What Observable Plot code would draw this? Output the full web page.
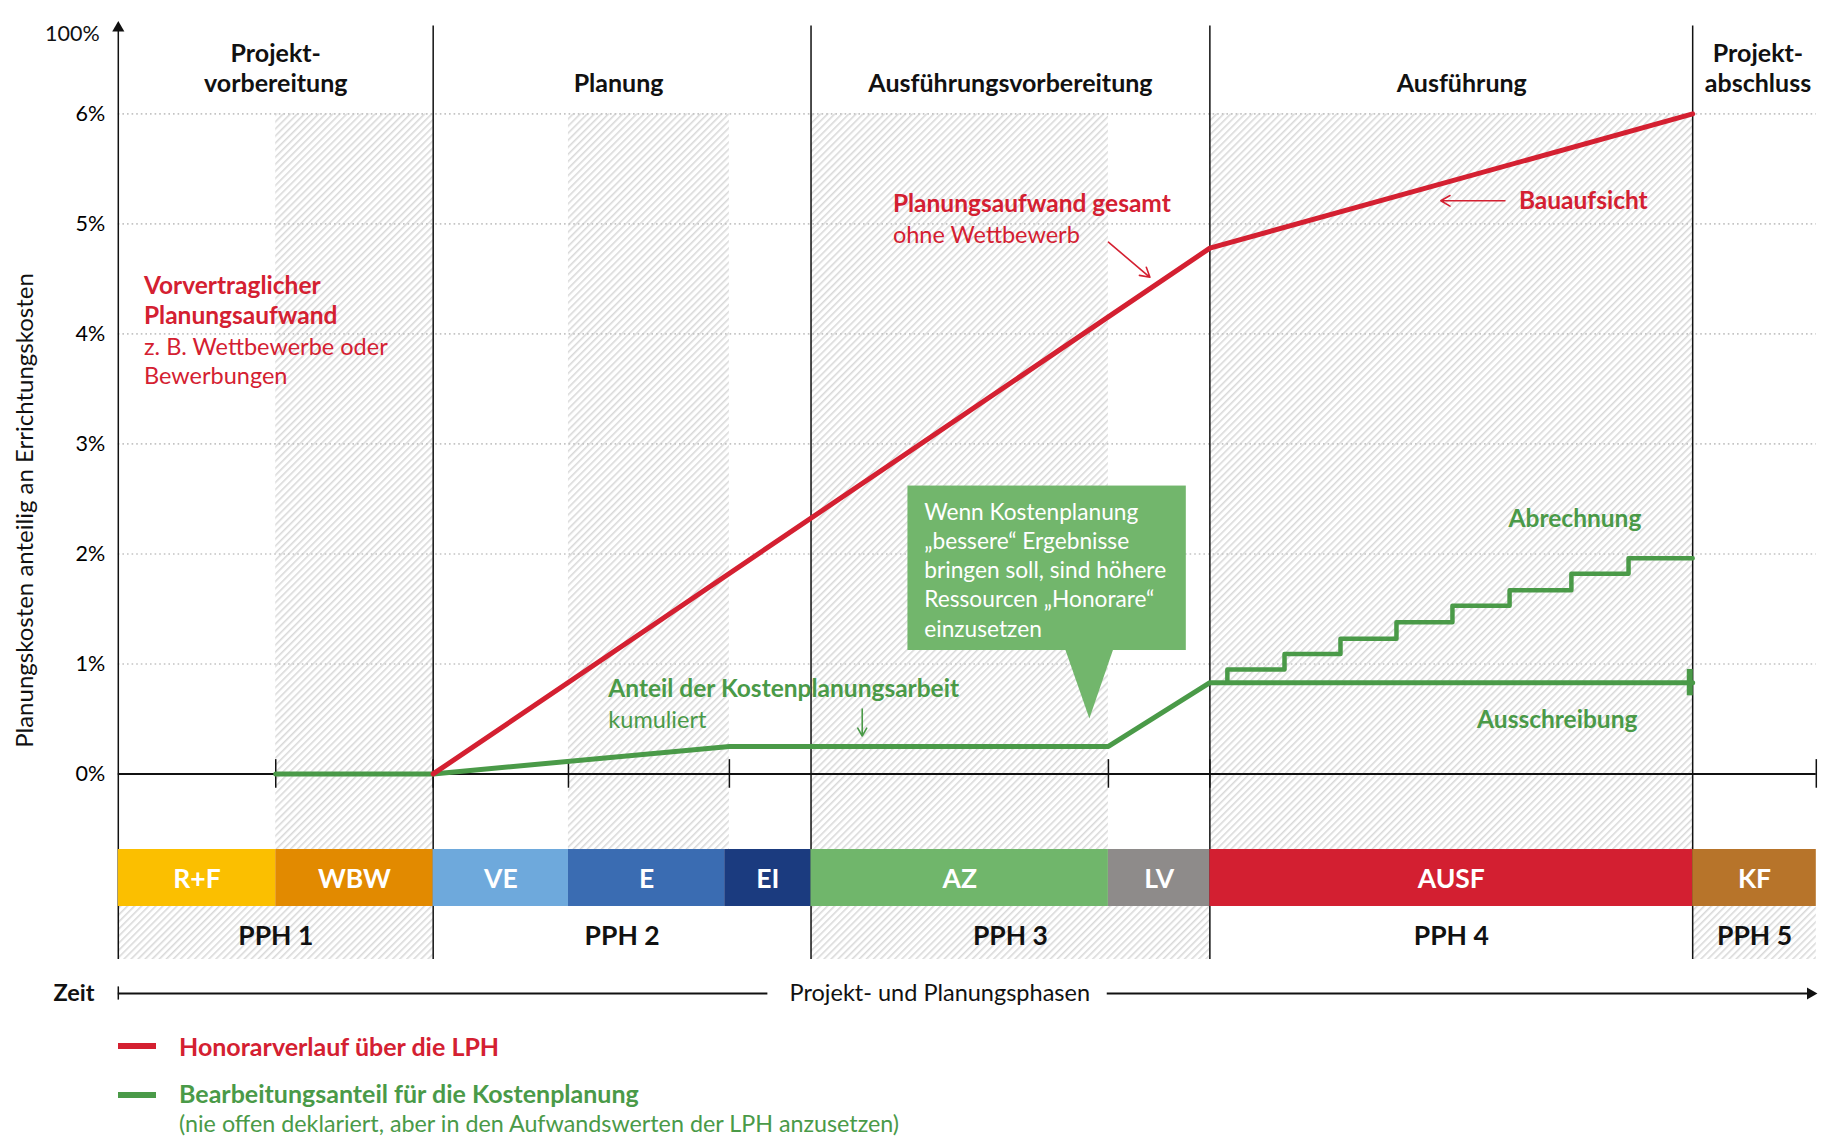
<!DOCTYPE html>
<html><head><meta charset="utf-8">
<script src="https://cdn.jsdelivr.net/npm/d3@7"></script>
<script src="https://cdn.jsdelivr.net/npm/@observablehq/plot@0.6"></script>
<style>
body{margin:0;background:#fff;font-family:Lato,"Noto Sans",sans-serif;}
#wrap{position:relative;width:1829px;height:1138px;overflow:hidden;}
#chart{position:absolute;left:0;top:0;}
.sw{position:absolute;left:118px;width:38px;height:6px;}
.lt{position:absolute;left:179px;font-size:25px;line-height:28px;white-space:nowrap;}
</style></head>
<body><div id="wrap"><div id="chart"></div>
<div class="sw" style="top:1043px;background:#d42031"></div>
<div class="lt" style="top:1032px;color:#d42031;font-weight:bold">Honorarverlauf über die LPH</div>
<div class="sw" style="top:1092px;background:#4a9a48"></div>
<div class="lt" style="top:1079px;color:#4a9a48;font-weight:bold">Bearbeitungsanteil für die Kostenplanung</div>
<div class="lt" style="top:1109px;color:#4a9a48;font-size:23.3px">(nie offen deklariert, aber in den Aufwandswerten der LPH anzusetzen)</div>
</div>
<script>
// ---------- data ----------
const yTicks = [0, 1, 2, 3, 4, 5, 6];
const topTickLabel = "100%";
const timeEnd = 1456;

const honorarT = [270, 936, 1350];
const honorarV = [0, 4.78, 6.0];

const kostenT = [135, 270, 524, 849, 936, 1350];
const kostenV = [0, 0, 0.25, 0.25, 0.83, 0.83];

const abrechnungT = [951, 951, 1000, 1048, 1096, 1144, 1193, 1246, 1295, 1350];
const abrechnungV = [0.83, 0.95, 1.09, 1.23, 1.38, 1.53, 1.67, 1.82, 1.96, 1.96];

const lphNames  = ["R+F", "WBW", "VE", "E", "EI", "AZ", "LV", "AUSF", "KF"];
const lphStart  = [0, 135, 270, 386, 520, 594, 849, 936, 1350];
const lphEnd    = [135, 270, 386, 520, 594, 849, 936, 1350, 1456];
const lphColors = ["#fbbf00", "#e28a00", "#6ea9dc", "#3a6cb2", "#1b3b7f", "#70b66b", "#8e8b8a", "#d31f31", "#b7742a"];

const pphNames  = ["PPH 1", "PPH 2", "PPH 3", "PPH 4", "PPH 5"];
const pphStart  = [0, 270, 594, 936, 1350];
const pphEnd    = [270, 594, 936, 1350, 1456];
const pphHatched = [true, false, true, false, true];

const phaseTitles = ["Projekt-\nvorbereitung", "Planung", "Ausführungsvorbereitung", "Ausführung", "Projekt-\nabschluss"];
const phaseTitleX = [135, 429, 765, 1152, 1406];

const hatchStart = [135, 386, 594, 936];
const hatchEnd   = [270, 524, 849, 1350];

const axisTickT = [135, 270, 386, 524, 849, 936, 1456];

const calloutLines = "Wenn Kostenplanung\n„bessere“ Ergebnisse\nbringen soll, sind höhere\nRessourcen „Honorare“\neinzusetzen";

// ---------- build ----------
const RED = "#d42031", GREEN = "#4a9a48", GREEN_BOX = "#72b66c";
const bandTop = -0.687, bandBottom = -1.205, pphBottom = -1.687, zeitY = -1.996;
const k = v => () => v;

const honorar = honorarT.map((t, i) => ({t, v: honorarV[i]}));
const kosten = kostenT.map((t, i) => ({t, v: kostenV[i]}));
const abrechnung = abrechnungT.map((t, i) => ({t, v: abrechnungV[i]}));
const lph = lphNames.map((n, i) => ({n, a: lphStart[i], b: lphEnd[i], c: lphColors[i]}));
const pph = pphNames.map((n, i) => ({n, a: pphStart[i], b: pphEnd[i], h: pphHatched[i]}));
const titles = phaseTitles.map((s, i) => ({s, x: phaseTitleX[i], two: s.includes("\n")}));
const hatches = hatchStart.map((a, i) => ({a, b: hatchEnd[i]}));

const one = [0];
const txt = (s, x, y, o) => Plot.text([s], {x: k(x), y: k(y), text: d => d, ...o});
const FS = 24.5, FR = 23.5;

const svg = Plot.plot({
  width: 1829, height: 1015,
  marginLeft: 117.8, marginRight: 13.2, marginTop: 0, marginBottom: 0,
  x: {domain: [0, timeEnd], axis: null},
  y: {domain: [-2.196, 7.031]},
  color: {type: "identity"},
  style: {fontFamily: "Lato, 'Noto Sans', sans-serif", background: "#fff", overflow: "visible"},
  marks: [
    // hatched areas
    Plot.rect(hatches, {x1: "a", x2: "b", y1: k(6), y2: k(bandTop), fill: "url(#hatch)"}),
    Plot.rect(pph.filter(d => d.h), {x1: "a", x2: "b", y1: k(bandBottom), y2: k(pphBottom), fill: "url(#hatch)"}),
    // grid
    Plot.ruleY(yTicks.filter(d => d > 0), {y: d => d, x1: k(0), x2: k(timeEnd), stroke: "#c4c4c4", strokeWidth: 1.6, strokeDasharray: "1.6,3"}),
    // phase separators and y axis line
    Plot.ruleX([0, ...pphStart.slice(1)], {x: d => d, y1: k(pphBottom), y2: k(6.80), stroke: "#111", strokeWidth: 1.5}),
    Plot.dot(one, {x: k(0), y: k(6.78), symbol: "triangle", r: 4.5, fill: "#111", stroke: "none"}),
    // 0% axis with ticks
    Plot.ruleY(one, {y: k(0), x1: k(0), x2: k(timeEnd), stroke: "#111", strokeWidth: 2}),
    Plot.ruleX(axisTickT, {x: d => d, y1: k(-0.13), y2: k(0.13), stroke: "#111", strokeWidth: 1.5}),
    // LPH band
    Plot.rect(lph, {x1: "a", x2: "b", y1: k(bandTop), y2: k(bandBottom), fill: "c"}),
    Plot.text(lph, {x: d => (d.a + d.b) / 2, y: k(-0.96), text: "n", fill: "white", fontWeight: "bold", fontSize: 26.5}),
    // PPH labels
    Plot.text(pph, {x: d => (d.a + d.b) / 2, y: k(-1.476), text: "n", fill: "#111", fontWeight: "bold", fontSize: 26.5}),
    // phase titles
    Plot.text(titles, {x: "x", y: d => d.two ? 6.4245 : 6.288, text: "s", fill: "#111", fontWeight: "bold", fontSize: 25, lineHeight: 1.2}),
    // y axis labels
    Plot.axisY({ticks: yTicks, tickFormat: d => d + "%", tickSize: 0, tickPadding: 13, fontSize: 21.5, label: null}),
    txt(topTickLabel, -16, 6.73, {textAnchor: "end", fontSize: 21.5, fill: "#111"}),
    txt("Planungskosten anteilig an Errichtungskosten", -80, 2.395, {rotate: -90, fontSize: 24, fill: "#111"}),
    // green cost-planning line
    Plot.line(kosten, {x: "t", y: "v", stroke: GREEN, strokeWidth: 5, strokeLinejoin: "round"}),
    Plot.line(abrechnung, {x: "t", y: "v", curve: "step-after", stroke: GREEN, strokeWidth: 4.5}),
    Plot.ruleX([1347.5], {x: d => d, y1: k(0.71), y2: k(0.95), stroke: GREEN, strokeWidth: 6}),
    // red fee line
    Plot.line(honorar, {x: "t", y: "v", stroke: RED, strokeWidth: 5, strokeLinejoin: "round"}),
    // callout
    Plot.rect(one, {x1: k(677.1), x2: k(915.8), y1: k(2.617), y2: k(1.122), fill: GREEN_BOX}),
    Plot.areaY([{x: 811.7, a: 1.15, b: 1.15}, {x: 833.1, a: 1.15, b: 0.50}, {x: 854.2, a: 1.15, b: 1.15}], {x: "x", y1: "a", y2: "b", fill: GREEN_BOX}),
    txt(calloutLines, 691.1, 1.865, {textAnchor: "start", fill: "white", fontSize: 22.7, lineHeight: 1.29}),
    // red annotations
    txt("Vorvertraglicher\nPlanungsaufwand", 22, 4.316, {textAnchor: "start", fill: RED, fontWeight: "bold", fontSize: FS, lineHeight: 1.23}),
    txt("z. B. Wettbewerbe oder\nBewerbungen", 22, 3.76, {textAnchor: "start", fill: RED, fontSize: FR, lineHeight: 1.25}),
    txt("Planungsaufwand gesamt", 664.2, 5.176, {textAnchor: "start", fill: RED, fontWeight: "bold", fontSize: FS}),
    txt("ohne Wettbewerb", 664.2, 4.892, {textAnchor: "start", fill: RED, fontSize: FR}),
    Plot.arrow(one, {x1: k(849), y1: k(4.834), x2: k(884.6), y2: k(4.515), stroke: RED, strokeWidth: 1.6, headLength: 10}),
    txt("Bauaufsicht", 1201, 5.204, {textAnchor: "start", fill: RED, fontWeight: "bold", fontSize: FS}),
    Plot.arrow(one, {x1: k(1189), y1: k(5.21), x2: k(1134), y2: k(5.21), stroke: RED, strokeWidth: 1.6, headLength: 10}),
    // green annotations
    txt("Anteil der Kostenplanungsarbeit", 420.2, 0.774, {textAnchor: "start", fill: GREEN, fontWeight: "bold", fontSize: FS}),
    txt("kumuliert", 420.2, 0.486, {textAnchor: "start", fill: GREEN, fontSize: FR}),
    Plot.arrow(one, {x1: k(637.9), y1: k(0.59), x2: k(637.9), y2: k(0.345), stroke: GREEN, strokeWidth: 1.6, headLength: 9}),
    txt("Abrechnung", 1306, 2.319, {textAnchor: "end", fill: GREEN, fontWeight: "bold", fontSize: FS}),
    txt("Ausschreibung", 1302.6, 0.485, {textAnchor: "end", fill: GREEN, fontWeight: "bold", fontSize: FS}),
    // time axis
    Plot.ruleY(one, {y: k(zeitY), x1: k(0), x2: k(557), stroke: "#111", strokeWidth: 2}),
    Plot.ruleY(one, {y: k(zeitY), x1: k(848), x2: k(1450), stroke: "#111", strokeWidth: 2}),
    Plot.ruleX(one, {x: k(0), y1: k(zeitY - 0.06), y2: k(zeitY + 0.06), stroke: "#111", strokeWidth: 1.5}),
    Plot.dot(one, {x: k(1451), y: k(zeitY), symbol: "triangle", r: 4.5, rotate: 90, fill: "#111", stroke: "none"}),
    txt("Projekt- und Planungsphasen", 704.4, zeitY, {fontSize: 23.5, fill: "#111"}),
    txt("Zeit", -20.5, zeitY, {textAnchor: "end", fontWeight: "bold", fontSize: 23.5, fill: "#111"})
  ]
});

const defs = d3.select(svg).insert("defs", ":first-child");
const pat = defs.append("pattern").attr("id", "hatch").attr("patternUnits", "userSpaceOnUse")
  .attr("width", 5).attr("height", 5).attr("patternTransform", "rotate(45)");
pat.append("rect").attr("width", 5).attr("height", 5).attr("fill", "#fff");
pat.append("line").attr("x1", 0.8).attr("y1", 0).attr("x2", 0.8).attr("y2", 5).attr("stroke", "#d8d8d8").attr("stroke-width", 1.5);

document.getElementById("chart").appendChild(svg);
</script>
</body></html>
